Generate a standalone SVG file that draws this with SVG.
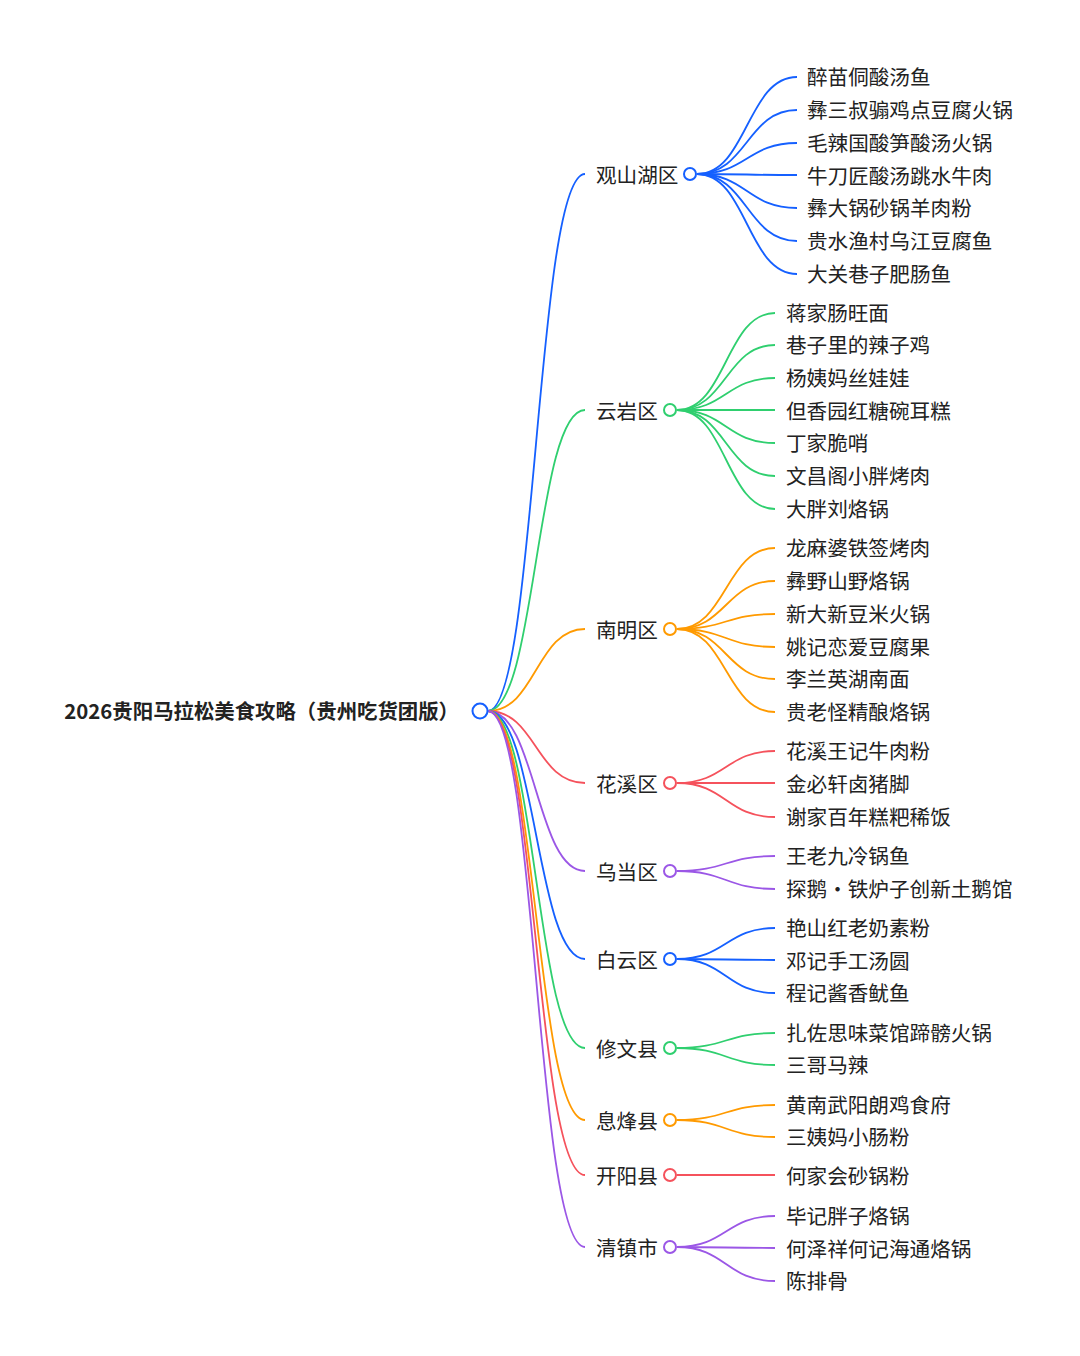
<svg xmlns="http://www.w3.org/2000/svg" width="1080" height="1356" viewBox="0 0 1080 1356">
<style>
text{font-family:"Noto Sans CJK SC","Noto Sans",sans-serif;font-size:20.6px;fill:#222;dominant-baseline:central}
.root{font-weight:bold;font-size:20.4px}
path{fill:none;stroke-width:1.8}
circle{fill:#fff;stroke-width:2}
.b{stroke:#1560ff}.g{stroke:#2fcf6f}.o{stroke:#ff9a00}.r{stroke:#f5525c}.p{stroke:#9b57e6}
</style>
<rect width="1080" height="1356" fill="#fff"/>
<g id="connectors">
<path class="b" d="M488,711C536,711 536,174 585,174"/>
<path class="g" d="M488,711C536,711 536,410 585,410"/>
<path class="o" d="M488,711C536,711 536,629 585,629"/>
<path class="r" d="M488,711C536,711 536,783 585,783"/>
<path class="p" d="M488,711C536,711 536,871 585,871"/>
<path class="b" d="M488,711C536,711 536,959 585,959"/>
<path class="g" d="M488,711C536,711 536,1048 585,1048"/>
<path class="o" d="M488,711C536,711 536,1120 585,1120"/>
<path class="r" d="M488,711C536,711 536,1175 585,1175"/>
<path class="p" d="M488,711C536,711 536,1247 585,1247"/>
<path class="b" d="M697,174C747,174 747,77 797,77"/>
<path class="b" d="M697,174C747,174 747,110 797,110"/>
<path class="b" d="M697,174C747,174 747,143 797,143"/>
<path class="b" d="M697,174C747,174 747,175 797,175"/>
<path class="b" d="M697,174C747,174 747,208 797,208"/>
<path class="b" d="M697,174C747,174 747,241 797,241"/>
<path class="b" d="M697,174C747,174 747,274 797,274"/>
<path class="g" d="M677,410C726,410 726,313 775,313"/>
<path class="g" d="M677,410C726,410 726,345 775,345"/>
<path class="g" d="M677,410C726,410 726,378 775,378"/>
<path class="g" d="M677,410C726,410 726,410 775,410"/>
<path class="g" d="M677,410C726,410 726,443 775,443"/>
<path class="g" d="M677,410C726,410 726,476 775,476"/>
<path class="g" d="M677,410C726,410 726,509 775,509"/>
<path class="o" d="M677,629C726,629 726,548 775,548"/>
<path class="o" d="M677,629C726,629 726,581 775,581"/>
<path class="o" d="M677,629C726,629 726,614 775,614"/>
<path class="o" d="M677,629C726,629 726,647 775,647"/>
<path class="o" d="M677,629C726,629 726,679 775,679"/>
<path class="o" d="M677,629C726,629 726,712 775,712"/>
<path class="r" d="M677,783C726,783 726,751 775,751"/>
<path class="r" d="M677,783C726,783 726,783 775,783"/>
<path class="r" d="M677,783C726,783 726,817 775,817"/>
<path class="p" d="M677,871C726,871 726,856 775,856"/>
<path class="p" d="M677,871C726,871 726,889 775,889"/>
<path class="b" d="M677,959C726,959 726,928 775,928"/>
<path class="b" d="M677,959C726,959 726,960 775,960"/>
<path class="b" d="M677,959C726,959 726,993 775,993"/>
<path class="g" d="M677,1048C726,1048 726,1033 775,1033"/>
<path class="g" d="M677,1048C726,1048 726,1065 775,1065"/>
<path class="o" d="M677,1120C726,1120 726,1105 775,1105"/>
<path class="o" d="M677,1120C726,1120 726,1137 775,1137"/>
<path class="r" d="M677,1175C726,1175 726,1175 775,1175"/>
<path class="p" d="M677,1247C726,1247 726,1216 775,1216"/>
<path class="p" d="M677,1247C726,1247 726,1248 775,1248"/>
<path class="p" d="M677,1247C726,1247 726,1281 775,1281"/>
</g>
<g id="root"><text class="root" x="459" y="710" text-anchor="end">2026贵阳马拉松美食攻略（贵州吃货团版）</text><circle class="b" cx="480" cy="711" r="7.5"/></g>
<g id="n1"><text x="596" y="174">观山湖区</text><circle class="b" cx="690" cy="174" r="6"/>
<text x="807" y="76">醉苗侗酸汤鱼</text><text x="807" y="109">彝三叔骟鸡点豆腐火锅</text><text x="807" y="142">毛辣国酸笋酸汤火锅</text><text x="807" y="175">牛刀匠酸汤跳水牛肉</text><text x="807" y="207">彝大锅砂锅羊肉粉</text><text x="807" y="240">贵水渔村乌江豆腐鱼</text><text x="807" y="273">大关巷子肥肠鱼</text></g>
<g id="n2"><text x="596" y="410">云岩区</text><circle class="g" cx="670" cy="410" r="6"/>
<text x="786" y="312">蒋家肠旺面</text><text x="786" y="344">巷子里的辣子鸡</text><text x="786" y="377">杨姨妈丝娃娃</text><text x="786" y="410">但香园红糖碗耳糕</text><text x="786" y="442">丁家脆哨</text><text x="786" y="475">文昌阁小胖烤肉</text><text x="786" y="508">大胖刘烙锅</text></g>
<g id="n3"><text x="596" y="629">南明区</text><circle class="o" cx="670" cy="629" r="6"/>
<text x="786" y="547">龙麻婆铁签烤肉</text><text x="786" y="580">彝野山野烙锅</text><text x="786" y="613">新大新豆米火锅</text><text x="786" y="646">姚记恋爱豆腐果</text><text x="786" y="678">李兰英湖南面</text><text x="786" y="711">贵老怪精酿烙锅</text></g>
<g id="n4"><text x="596" y="783">花溪区</text><circle class="r" cx="670" cy="783" r="6"/>
<text x="786" y="750">花溪王记牛肉粉</text><text x="786" y="783">金必轩卤猪脚</text><text x="786" y="816">谢家百年糕粑稀饭</text></g>
<g id="n5"><text x="596" y="871">乌当区</text><circle class="p" cx="670" cy="871" r="6"/>
<text x="786" y="855">王老九冷锅鱼</text><text x="786" y="888">探鹅・铁炉子创新土鹅馆</text></g>
<g id="n6"><text x="596" y="959">白云区</text><circle class="b" cx="670" cy="959" r="6"/>
<text x="786" y="927">艳山红老奶素粉</text><text x="786" y="960">邓记手工汤圆</text><text x="786" y="992">程记酱香鱿鱼</text></g>
<g id="n7"><text x="596" y="1048">修文县</text><circle class="g" cx="670" cy="1048" r="6"/>
<text x="786" y="1032">扎佐思味菜馆蹄髈火锅</text><text x="786" y="1064">三哥马辣</text></g>
<g id="n8"><text x="596" y="1120">息烽县</text><circle class="o" cx="670" cy="1120" r="6"/>
<text x="786" y="1104">黄南武阳朗鸡食府</text><text x="786" y="1136">三姨妈小肠粉</text></g>
<g id="n9"><text x="596" y="1175">开阳县</text><circle class="r" cx="670" cy="1175" r="6"/>
<text x="786" y="1175">何家会砂锅粉</text></g>
<g id="n10"><text x="596" y="1247">清镇市</text><circle class="p" cx="670" cy="1247" r="6"/>
<text x="786" y="1215">毕记胖子烙锅</text><text x="786" y="1248">何泽祥何记海通烙锅</text><text x="786" y="1280">陈排骨</text></g>
</svg>
